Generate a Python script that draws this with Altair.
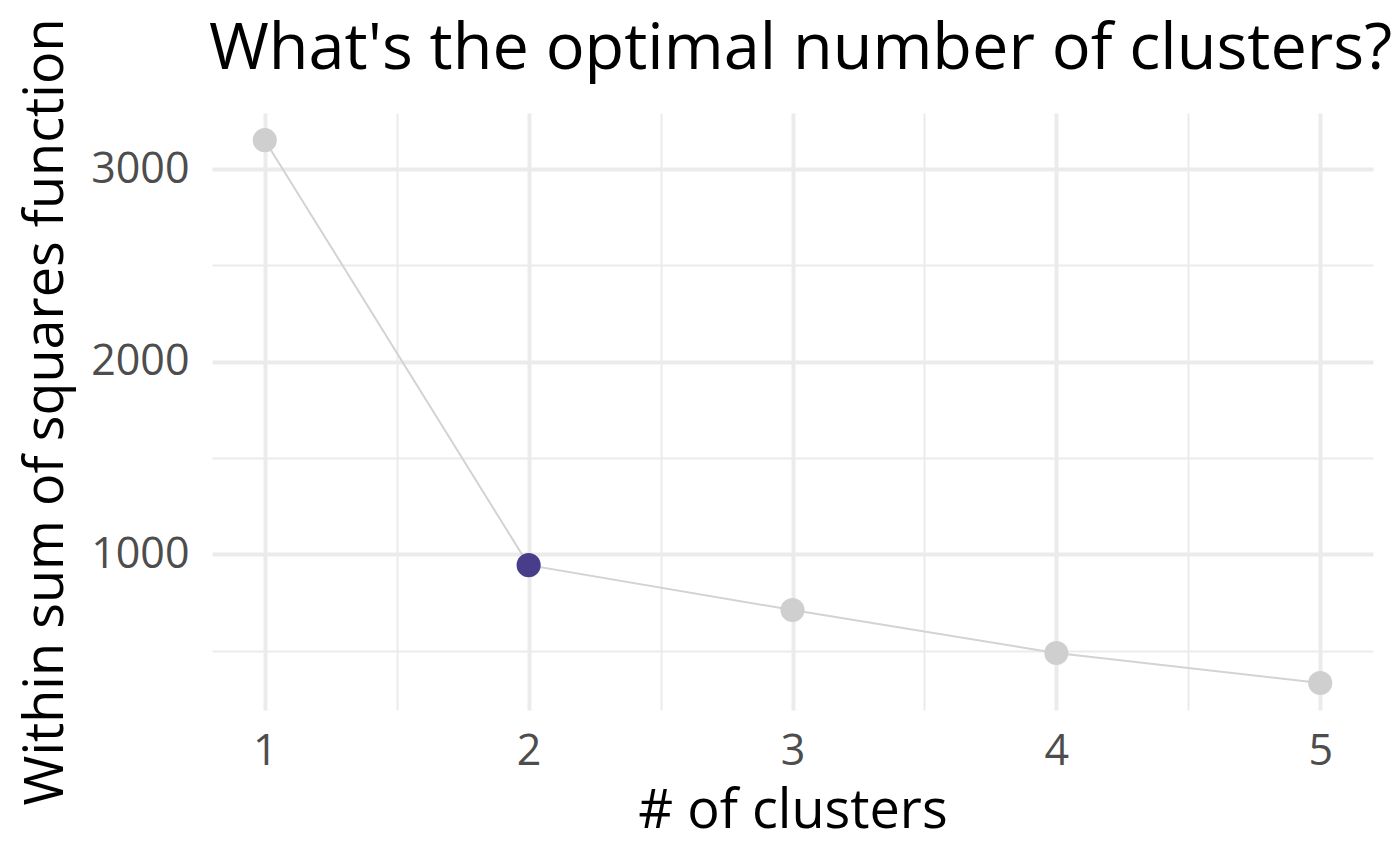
import altair as alt
import pandas as pd

clusters = [1, 2, 3, 4, 5]
wss = [3150, 944, 711, 488, 332]
optimal = [False, True, False, False, False]

x_ticks = [1, 1.5, 2, 2.5, 3, 3.5, 4, 4.5, 5]
y_ticks = [500, 1000, 1500, 2000, 2500, 3000]

df = pd.DataFrame({"k": clusters, "wss": wss, "optimal": optimal})

FONT = "Open Sans"

x_enc = alt.X(
    "k:Q",
    scale=alt.Scale(domain=[0.8, 5.2], nice=False, zero=False),
    axis=alt.Axis(
        values=x_ticks,
        title="# of clusters",
        labelExpr="datum.value % 1 === 0 ? format(datum.value, 'd') : ''",
        gridWidth={"condition": {"test": "datum.value % 1 === 0", "value": 4}, "value": 2},
    ),
)
y_enc = alt.Y(
    "wss:Q",
    scale=alt.Scale(domain=[192, 3291], nice=False, zero=False),
    axis=alt.Axis(
        values=y_ticks,
        title="Within sum of squares function",
        labelExpr="datum.value % 1000 === 0 ? format(datum.value, 'd') : ''",
        gridWidth={"condition": {"test": "datum.value % 1000 === 0", "value": 4}, "value": 2},
    ),
)

line = alt.Chart(df).mark_line(color="#D3D3D3", strokeWidth=2).encode(x=x_enc, y=y_enc)

pts = alt.Chart(df).mark_circle(size=580, opacity=1).encode(
    x="k:Q",
    y="wss:Q",
    color=alt.condition(
        alt.datum.optimal, alt.value("#483D8B"), alt.value("#CFCFCF")
    ),
)

chart = (
    alt.layer(line, pts)
    .properties(
        width=1161,
        height=597,
        autosize=alt.AutoSizeParams(type="none"),
        padding={"left": 204, "top": 105, "right": 19, "bottom": 145},
        title=alt.Title(
            "What's the optimal number of clusters?",
            anchor="start",
            frame="group",
            font=FONT,
            fontSize=64.8,
            fontWeight="normal",
            color="#000000",
            offset=0,
            dy=116,
            dx=-3,
            baseline="alphabetic",
        ),
    )
    .configure_view(stroke=None)
    .configure_axis(
        grid=True,
        gridColor="#EBEBEB",
        domain=False,
        ticks=False,
        labelFont=FONT,
        labelFontSize=43,
        labelColor="#4D4D4D",
        titleFont=FONT,
        titleFontSize=54,
        titleFontWeight="normal",
        titleColor="#000000",
    )
    .configure_axisX(labelPadding=20, titlePadding=11)
    .configure_axisY(labelPadding=23, titlePadding=17)
)

chart.save("out.html", embed_options={"renderer": "svg", "actions": False})
